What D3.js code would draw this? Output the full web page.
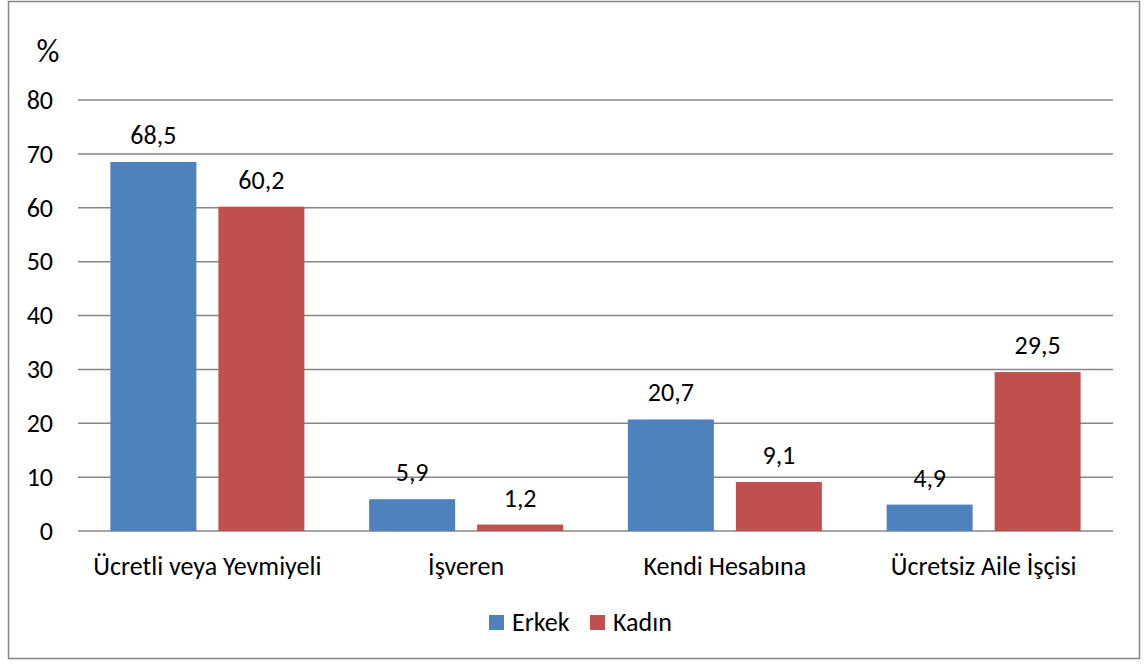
<!DOCTYPE html>
<html>
<head>
<meta charset="utf-8">
<script src="https://cdn.jsdelivr.net/npm/d3@7"></script>
<style>
  body { margin: 0; background: #fff; }
  text { font-family: Carlito, "Open Sans", "Liberation Sans", sans-serif; fill: #000; }
</style>
</head>
<body>
<div id="chart"></div>
<script>
var categories = ["Ücretli veya Yevmiyeli", "İşveren", "Kendi Hesabına", "Ücretsiz Aile İşçisi"];
var seriesNames = ["Erkek", "Kadın"];
var erkek = [68.5, 5.9, 20.7, 4.9];
var kadin = [60.2, 1.2, 9.1, 29.5];
var yTicks = [0, 10, 20, 30, 40, 50, 60, 70, 80];
var colors = ["#4F81BD", "#C0504D"];

var width = 1148, height = 664,
    plotLeft = 78, plotRight = 1113,
    plotTop = 100, plotBottom = 531,
    fontSize = "26px";

var svg = d3.select("#chart").append("svg")
    .attr("width", width)
    .attr("height", height);

// outer frame
svg.append("rect")
    .attr("x", 8.5).attr("y", 1.5)
    .attr("width", 1131).attr("height", 657)
    .attr("fill", "#fff")
    .attr("stroke", "#868686")
    .attr("stroke-width", 1.5);

var y = d3.scaleLinear().domain([0, 80]).range([plotBottom, plotTop]);
var x0 = d3.scaleBand().domain(categories).range([plotLeft, plotRight]).padding(0);

// grid lines
svg.append("g").selectAll("line").data(yTicks).enter().append("line")
    .attr("x1", plotLeft).attr("x2", plotRight)
    .attr("y1", d => y(d)).attr("y2", d => y(d))
    .attr("stroke", "#868686")
    .attr("stroke-width", 1.5);

// y axis labels
var yAxis = d3.axisLeft(y).tickValues(yTicks).tickSize(0).tickPadding(0);
var yg = svg.append("g").attr("transform", "translate(53,0)").call(yAxis);
yg.select(".domain").remove();
yg.selectAll("text").style("font-size", fontSize)
    .style("font-family", "Carlito, 'Open Sans', 'Liberation Sans', sans-serif");

svg.append("text")
    .attr("x", 48).attr("y", 62)
    .attr("text-anchor", "middle")
    .style("font-size", "32px")
    .text("%");

var barW = 86, gap = 22;
var data = categories.map((c, i) => ({ cat: c, vals: [erkek[i], kadin[i]] }));

var groups = svg.append("g").selectAll("g").data(data).enter().append("g")
    .attr("transform", d => "translate(" + (x0(d.cat) + x0.bandwidth() / 2) + ",0)");

var x1 = d3.scaleOrdinal().domain([0, 1]).range([-(gap / 2 + barW), gap / 2]);

groups.selectAll("rect").data(d => d.vals).enter().append("rect")
    .attr("x", (v, i) => x1(i))
    .attr("y", v => y(v))
    .attr("width", barW)
    .attr("height", v => plotBottom - y(v))
    .attr("fill", (v, i) => colors[i]);

groups.selectAll("text.val").data(d => d.vals).enter().append("text")
    .attr("class", "val")
    .attr("x", (v, i) => x1(i) + barW / 2)
    .attr("y", v => y(v) - 18)
    .attr("text-anchor", "middle")
    .style("font-size", fontSize)
    .text(v => String(v.toFixed(1)).replace(".", ","));

// category labels
var xAxis = d3.axisBottom(x0).tickSize(0).tickPadding(0);
var xg = svg.append("g").attr("transform", "translate(0," + (plotBottom + 44) + ")").call(xAxis);
xg.select(".domain").remove();
xg.selectAll("text").attr("dy", 0).style("font-size", fontSize)
    .style("font-family", "Carlito, 'Open Sans', 'Liberation Sans', sans-serif");

// legend
var legendX = [489, 590];
var lg = svg.append("g").selectAll("g").data(seriesNames).enter().append("g")
    .attr("transform", (d, i) => "translate(" + legendX[i] + ",615)");
lg.append("rect").attr("width", 15).attr("height", 15).attr("fill", (d, i) => colors[i]);
lg.append("text").attr("x", 23).attr("y", 16).style("font-size", fontSize).text(d => d);
</script>
</body>
</html>
